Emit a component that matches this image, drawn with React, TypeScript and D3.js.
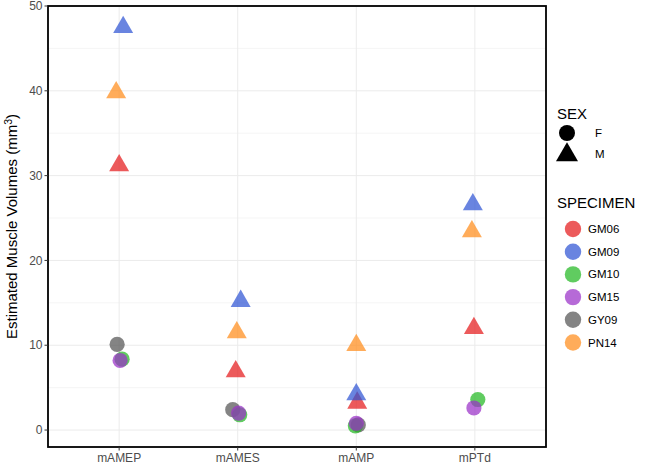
import React from "react";
import * as d3 from "d3";

// muscles along the x axis
const muscles = ["mAMEP", "mAMES", "mAMP", "mPTd"];

// specimens, sex and colour
const specimens = ["GM06", "GM09", "GM10", "GM15", "GY09", "PN14"];
const sexes = ["M", "M", "F", "F", "F", "M"];
const colors = ["#E41A1C", "#2F55D4", "#22B822", "#9A30C8", "#555555", "#FF8C1A"];

// estimated volumes (mm^3), one value per muscle, null when missing
const GM06 = [31.2, 6.9, 3.2, 12.0];
const GM09 = [47.5, 15.2, 4.2, 26.6];
const GM10 = [8.35, 1.8, 0.5, 3.6];
const GM15 = [8.2, 2.0, 0.8, 2.6];
const GY09 = [10.1, 2.4, 0.6, null];
const PN14 = [39.8, 11.5, 10.0, 23.4];

// horizontal jitter, in category units
const jitter = {
  GM06: [0, -0.017, 0.008, -0.008],
  GM09: [0.034, 0.025, 0, -0.017],
  GM10: [0.025, 0.017, -0.008, 0.025],
  GM15: [0.008, 0.008, 0, -0.008],
  GY09: [-0.017, -0.042, 0.017, 0],
  PN14: [-0.025, -0.008, 0, -0.025],
};

const volumes = { GM06, GM09, GM10, GM15, GY09, PN14 };
// draw order: gray first so the other females sit on top
const drawOrder = ["GY09", "GM10", "GM15", "GM06", "PN14", "GM09"];

const yTicks = [0, 10, 20, 30, 40, 50];
const yMinor = [5, 15, 25, 35, 45];

const W = 649;
const H = 467;
const panel = { left: 48, right: 546, top: 6, bottom: 447 };
const font = "'Liberation Sans', Arial, sans-serif";
const ALPHA = 0.72;
const triSize = 173; // equilateral, 20px side
const circleR = 7.6;

export default function App() {
  const x = d3
    .scaleLinear()
    .domain([0.4, muscles.length + 0.6])
    .range([panel.left, panel.right]);
  const y = d3.scaleLinear().domain([-2, 50]).range([panel.bottom, panel.top]);
  const tri = d3.symbol().type(d3.symbolTriangle).size(triSize)();

  const points: any[] = [];
  drawOrder.forEach((s) => {
    const i = specimens.indexOf(s);
    volumes[s].forEach((v, j) => {
      if (v == null) return;
      points.push({
        key: s + j,
        cx: x(j + 1 + jitter[s][j]),
        cy: y(v),
        sex: sexes[i],
        color: colors[i],
      });
    });
  });

  const legX = 557;
  return (
    <svg
      width={W}
      height={H}
      style={{ position: "absolute", left: 0, top: 0, background: "#fff" }}
      fontFamily={font}
    >
      {/* grid */}
      <g>
        {yMinor.map((t) => (
          <line key={"mn" + t} x1={panel.left} x2={panel.right} y1={y(t)} y2={y(t)} stroke="#F3F3F3" strokeWidth={0.8} />
        ))}
        {yTicks.map((t) => (
          <line key={"mj" + t} x1={panel.left} x2={panel.right} y1={y(t)} y2={y(t)} stroke="#EBEBEB" strokeWidth={1} />
        ))}
        {muscles.map((m, j) => (
          <line key={m} x1={x(j + 1)} x2={x(j + 1)} y1={panel.top} y2={panel.bottom} stroke="#EBEBEB" strokeWidth={1} />
        ))}
      </g>

      {/* points */}
      <g>
        {points.map((p) =>
          p.sex === "F" ? (
            <circle key={p.key} cx={p.cx} cy={p.cy} r={circleR} fill={p.color} fillOpacity={ALPHA} />
          ) : (
            <path key={p.key} d={tri} transform={`translate(${p.cx},${p.cy})`} fill={p.color} fillOpacity={ALPHA} />
          )
        )}
      </g>

      {/* panel border */}
      <rect
        x={panel.left}
        y={panel.top}
        width={panel.right - panel.left}
        height={panel.bottom - panel.top}
        fill="none"
        stroke="#000"
        strokeWidth={1.8}
      />

      {/* y axis */}
      <g>
        {yTicks.map((t) => (
          <g key={t}>
            <line x1={panel.left - 3.5} x2={panel.left} y1={y(t)} y2={y(t)} stroke="#333" strokeWidth={1} />
            <text x={panel.left - 5.5} y={y(t)} dy="0.35em" textAnchor="end" fontSize={12} fill="#4D4D4D">
              {t}
            </text>
          </g>
        ))}
        <text
          transform={`translate(17,${(panel.top + panel.bottom) / 2}) rotate(-90)`}
          textAnchor="middle"
          fontSize={15}
          fill="#000"
        >
          Estimated Muscle Volumes (mm
          <tspan dy={-5} fontSize={10.5}>3</tspan>
          <tspan dy={5}>)</tspan>
        </text>
      </g>

      {/* x axis */}
      <g>
        {muscles.map((m, j) => (
          <g key={m}>
            <line x1={x(j + 1)} x2={x(j + 1)} y1={panel.bottom} y2={panel.bottom + 3.5} stroke="#333" strokeWidth={1} />
            <text x={x(j + 1)} y={panel.bottom + 14.5} textAnchor="middle" fontSize={12} fill="#4D4D4D">
              {m}
            </text>
          </g>
        ))}
      </g>

      {/* legend: sex */}
      <g>
        <text x={legX} y={114} dy="0.35em" fontSize={15}>SEX</text>
        <circle cx={legX + 10} cy={133} r={8} fill="#000" />
        <text x={legX + 38} y={133} dy="0.35em" fontSize={11.5}>F</text>
        <path d={d3.symbol().type(d3.symbolTriangle).size(210)()} transform={`translate(${legX + 10},${155})`} fill="#000" />
        <text x={legX + 38} y={154} dy="0.35em" fontSize={11.5}>M</text>
      </g>

      {/* legend: specimen */}
      <g>
        <text x={legX} y={203} dy="0.35em" fontSize={15}>SPECIMEN</text>
        {specimens.map((s, i) => (
          <g key={s} transform={`translate(${legX},${229 + i * 22.7})`}>
            <circle cx={16} cy={0} r={8.2} fill={colors[i]} fillOpacity={ALPHA} />
            <text x={31} y={0} dy="0.35em" fontSize={11.5}>{s}</text>
          </g>
        ))}
      </g>
    </svg>
  );
}
